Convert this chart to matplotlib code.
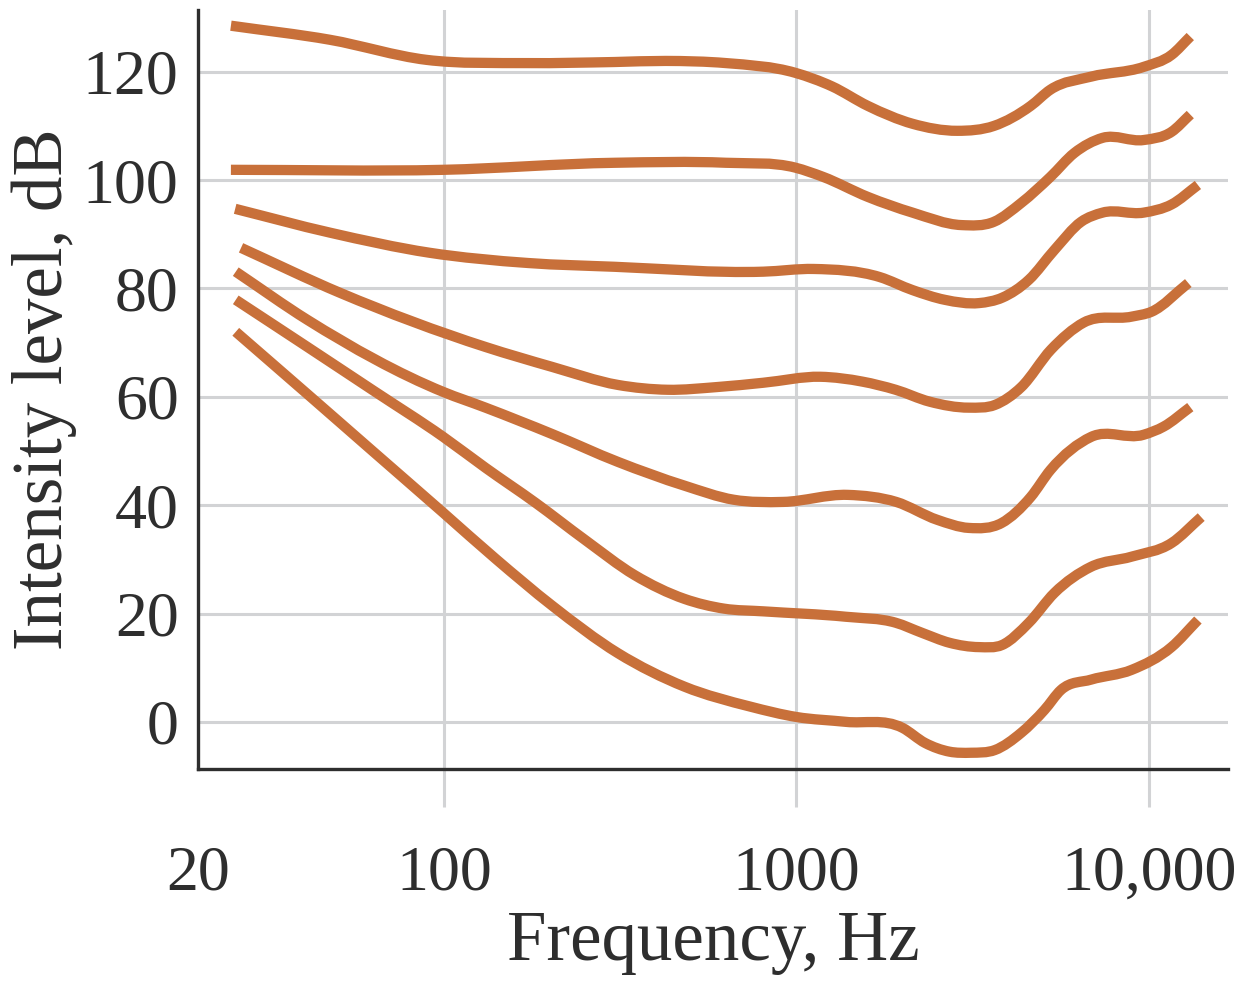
import matplotlib
matplotlib.use("Agg")
import numpy as np
import matplotlib.pyplot as plt
from matplotlib.path import Path
from matplotlib.patches import PathPatch
from matplotlib.ticker import FixedLocator, FixedFormatter

# ---- data (frequency Hz, intensity dB) ----
f_120 = [24.8, 47.4, 89, 173, 305, 425, 631, 993, 1262, 1595, 2136, 2860, 3636, 4625, 5263, 6866, 9680, 11610, 13130]
l_120 = [128.5, 125.9, 122.2, 121.6, 121.8, 122.0, 121.6, 119.8, 117.3, 113.7, 110.4, 109.1, 110.0, 113.7, 116.7, 119.1, 120.9, 123.1, 126.5]

f_100 = [24.8, 99.4, 305, 631, 993, 1190, 1595, 2136, 2940, 3636, 4350, 5263, 6150, 7400, 9680, 11610, 13130]
l_100 = [101.9, 101.9, 103.2, 103.2, 102.3, 100.6, 96.9, 94.0, 91.7, 92.3, 95.8, 100.6, 105.0, 107.8, 107.4, 108.9, 112.1]

f_80 = [25.5, 47.4, 90.7, 173, 305, 806, 1120, 1725, 2136, 2640, 3300, 3840, 4570, 5400, 6430, 7400, 9680, 11610, 13800]
l_80 = [94.7, 90.3, 86.6, 84.7, 84.0, 83.1, 83.6, 82.1, 79.7, 77.9, 77.3, 78.3, 81.6, 87.1, 92.3, 94.0, 94.0, 95.5, 99.1]

f_60 = [26.5, 50.6, 131, 203, 311, 431, 595, 806, 1170, 1540, 1913, 2390, 3090, 3660, 4350, 5280, 6540, 8950, 10190, 12960]
l_60 = [87.5, 79.2, 69.2, 65.5, 62.2, 61.3, 61.8, 62.6, 63.7, 62.8, 61.3, 59.1, 58.0, 58.5, 61.8, 68.7, 73.7, 74.8, 75.7, 81.0]

f_40 = [25.6, 40.9, 99.4, 131, 203, 311, 481, 664, 918, 1398, 1920, 2510, 3086, 3823, 4625, 5263, 6866, 9680, 11030, 13130]
l_40 = [83.1, 74.2, 60.9, 58.0, 53.1, 48.0, 43.6, 41.0, 40.6, 41.9, 40.6, 37.3, 35.8, 36.7, 41.5, 46.5, 52.6, 53.0, 54.5, 58.1]

f_20 = [25.6, 40.9, 63.1, 99.4, 131, 182, 251, 347, 481, 623, 806, 1383, 1913, 2280, 2720, 3300, 3840, 4570, 5400, 6850, 8950, 11610, 14100]
l_20 = [77.9, 69.2, 61.1, 52.6, 46.9, 40.4, 33.6, 27.1, 22.7, 20.9, 20.4, 19.4, 18.3, 16.4, 14.6, 13.8, 14.2, 18.3, 23.8, 28.6, 30.5, 33.0, 37.8]

f_0 = [25.6, 40.9, 63.1, 99.4, 140, 203, 311, 481, 741, 1000, 1383, 2000, 2320, 2720, 3130, 3660, 4350, 5060, 5640, 6866, 8950, 11610, 13800]
l_0 = [72.0, 60.5, 49.8, 38.6, 30.1, 21.4, 12.7, 6.5, 2.8, 0.9, 0.0, -1.1, -3.9, -5.5, -5.7, -5.2, -2.0, 2.2, 5.9, 7.8, 9.6, 13.8, 18.8]

curves = [(f_120, l_120), (f_100, l_100), (f_80, l_80), (f_60, l_60),
          (f_40, l_40), (f_20, l_20), (f_0, l_0)]

x_ticks = [20, 100, 1000, 10000]
x_ticklabels = ["20", "100", "1000", "10,000"]
y_ticks = [0, 20, 40, 60, 80, 100, 120]
y_ticklabels = ["0", "20", "40", "60", "80", "100", "120"]

# ---- styling ----
ORANGE = "#C8703A"
GRID = "#D2D3D5"
DARK = "#2E2E2E"
FONT = "Liberation Serif"


def smooth_path(fx, ly):
    """Cubic Hermite (Bezier) path through the points, built in log-x space."""
    u = np.log10(np.asarray(fx, float))
    v = np.asarray(ly, float)
    n = len(u)
    m = np.empty(n)
    m[0] = (v[1] - v[0]) / (u[1] - u[0])
    m[-1] = (v[-1] - v[-2]) / (u[-1] - u[-2])
    for i in range(1, n - 1):
        d0 = (v[i] - v[i - 1]) / (u[i] - u[i - 1])
        d1 = (v[i + 1] - v[i]) / (u[i + 1] - u[i])
        h0 = u[i] - u[i - 1]
        h1 = u[i + 1] - u[i]
        m[i] = (d0 * h1 + d1 * h0) / (h0 + h1)
    verts = [(fx[0], ly[0])]
    codes = [Path.MOVETO]
    for i in range(n - 1):
        h = u[i + 1] - u[i]
        c1 = (10 ** (u[i] + h / 3), v[i] + m[i] * h / 3)
        c2 = (10 ** (u[i + 1] - h / 3), v[i + 1] - m[i + 1] * h / 3)
        verts += [c1, c2, (fx[i + 1], ly[i + 1])]
        codes += [Path.CURVE4] * 3
    return Path(verts, codes)


fig = plt.figure(figsize=(12.43, 9.81), dpi=100)
ax = fig.add_axes([198/1243, 1 - 769/981, (1228-198)/1243, (769-10)/981])

ax.set_xscale("log")
ax.set_xlim(20, 16800)
ax.set_ylim(-8.7, 131.4)

for y in y_ticks:
    ax.axhline(y, color=GRID, lw=2.2, zorder=1)
for x in x_ticks[1:]:
    ax.axvline(x, color=GRID, lw=2.2, zorder=1)

for fx, ly in curves:
    patch = PathPatch(smooth_path(fx, ly), facecolor="none", edgecolor=ORANGE,
                      lw=7.4, capstyle="butt", joinstyle="round", zorder=3)
    ax.add_patch(patch)

ax.xaxis.set_major_locator(FixedLocator(x_ticks))
ax.xaxis.set_major_formatter(FixedFormatter(x_ticklabels))
ax.xaxis.set_minor_locator(FixedLocator([]))
ax.yaxis.set_major_locator(FixedLocator(y_ticks))
ax.yaxis.set_major_formatter(FixedFormatter(y_ticklabels))
ax.yaxis.set_minor_locator(FixedLocator([]))

ax.tick_params(axis="x", which="major", length=27, width=2.2, color=GRID,
               direction="out", pad=28, labelsize=46, labelcolor=DARK)
ax.tick_params(axis="y", which="major", length=0, pad=14, labelsize=46,
               labelcolor=DARK)
ax.xaxis.get_major_ticks()[0].tick1line.set_visible(False)

for lab in ax.get_xticklabels() + ax.get_yticklabels():
    lab.set_fontfamily(FONT)

for side in ["top", "right"]:
    ax.spines[side].set_visible(False)
for side in ["left", "bottom"]:
    ax.spines[side].set_color(DARK)
    ax.spines[side].set_linewidth(2.4)
    ax.spines[side].set_zorder(4)

ax.set_xlabel("Frequency, Hz", fontsize=51, family=FONT, color=DARK, labelpad=5)
ax.set_ylabel("Intensity level, dB", fontsize=51, family=FONT, color=DARK, labelpad=4)

fig.savefig("out.png", dpi=100, facecolor="white")
